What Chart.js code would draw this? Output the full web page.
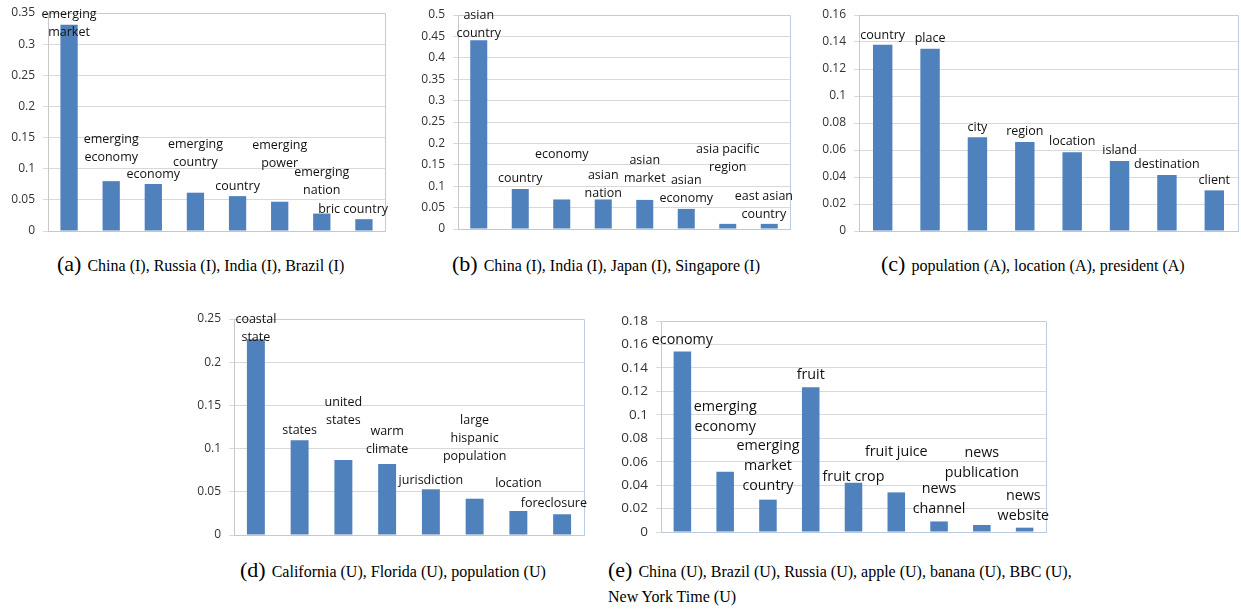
<!DOCTYPE html>
<html>
<head>
<meta charset="utf-8">
<script src="https://cdn.jsdelivr.net/npm/chart.js@4.4.1/dist/chart.umd.min.js"></script>
<style>
  body { margin: 0; background: #fff; }
  #page { position: relative; width: 1241px; height: 610px; overflow: hidden; }
  .box { position: absolute; }
  .cap { position: absolute; font-family: "Liberation Serif", serif; white-space: nowrap; color: #000; line-height: 1; font-size: 16px; }
  .cap .tag { font-size: 22px; }
  .cap .txt { font-size: 16px; margin-left: 6px; }
</style>
</head>
<body>
<div id="page">
  <div class="box" style="left:0px;top:0px;width:400px;height:245px"><canvas id="chartA"></canvas></div>
  <div class="box" style="left:410px;top:0px;width:400px;height:245px"><canvas id="chartB"></canvas></div>
  <div class="box" style="left:810px;top:0px;width:431px;height:245px"><canvas id="chartC"></canvas></div>
  <div class="box" style="left:180px;top:300px;width:420px;height:245px"><canvas id="chartD"></canvas></div>
  <div class="box" style="left:600px;top:300px;width:460px;height:245px"><canvas id="chartE"></canvas></div>

  <div class="cap" style="left:57px;top:253px"><span class="tag">(a)</span><span class="txt">China (I), Russia (I), India (I), Brazil (I)</span></div>
  <div class="cap" style="left:452px;top:253px"><span class="tag">(b)</span><span class="txt">China (I), India (I), Japan (I), Singapore (I)</span></div>
  <div class="cap" style="left:881px;top:253px"><span class="tag">(c)</span><span class="txt">population (A), location (A), president (A)</span></div>
  <div class="cap" style="left:240px;top:559px"><span class="tag">(d)</span><span class="txt">California (U), Florida (U), population (U)</span></div>
  <div class="cap" style="left:608px;top:559px"><span class="tag">(e)</span><span class="txt">China (U), Brazil (U), Russia (U), apple (U), banana (U), BBC (U),</span></div>
  <div class="cap" style="left:608px;top:589px"><span class="txt" style="margin-left:0">New York Time (U)</span></div>
</div>

<script>
// (a) China, Russia, India, Brazil
let catsA = [['emerging', 'market'], ['emerging', 'economy'], ['economy'], ['emerging', 'country'],
    ['country'], ['emerging', 'power'], ['emerging', 'nation'], ['bric country']];
let valsA = [0.331, 0.080, 0.0755, 0.0615, 0.056, 0.047, 0.028, 0.019];

// (b) China, India, Japan, Singapore
let catsB = [['asian', 'country'], ['country'], ['economy'], ['asian', 'nation'], ['asian', 'market'],
    ['asian', 'economy'], ['asia pacific', 'region'], ['east asian', 'country']];
let valsB = [0.441, 0.0935, 0.069, 0.069, 0.068, 0.047, 0.012, 0.012];

// (c) population, location, president
let catsC = [['country'], ['place'], ['city'], ['region'], ['location'], ['island'], ['destination'], ['client']];
let valsC = [0.138, 0.135, 0.0695, 0.066, 0.0584, 0.0518, 0.0414, 0.0301];

// (d) California, Florida, population
let catsD = [['coastal', 'state'], ['states'], ['united', 'states'], ['warm', 'climate'], ['jurisdiction'],
    ['large', 'hispanic', 'population'], ['location'], ['foreclosure']];
let valsD = [0.2265, 0.1096, 0.0868, 0.0822, 0.0529, 0.042, 0.0278, 0.024];

// (e) China, Brazil, Russia, apple, banana, BBC, New York Time
let catsE = [['economy'], ['emerging', 'economy'], ['emerging', 'market', 'country'], ['fruit'], ['fruit crop'],
    ['fruit juice'], ['news', 'channel'], ['news', 'publication'], ['news', 'website']];
let valsE = [0.154, 0.0515, 0.0276, 0.1234, 0.042, 0.0338, 0.009, 0.006, 0.0037];

// y axis ranges
let maxA = 0.35, stepA = 0.05;
let maxB = 0.5, stepB = 0.05;
let maxC = 0.16, stepC = 0.02;
let maxD = 0.25, stepD = 0.05;
let maxE = 0.18, stepE = 0.02;

// where each word label sits (value at the middle of the text block)
let labelAtA = [0.333, 0.133, 0.0915, 0.125, 0.072, 0.123, 0.079, 0.035];
let labelAtB = [0.477, 0.117, 0.175, 0.104, 0.139, 0.092, 0.164, 0.056];
let labelAtC = [0.145, 0.143, 0.077, 0.074, 0.066, 0.0594, 0.049, 0.0377];
let labelAtD = [0.239, 0.1215, 0.1426, 0.1094, 0.0637, 0.1123, 0.0598, 0.0367];
let labelAtE = [0.1638, 0.0981, 0.056, 0.134, 0.0474, 0.0683, 0.0278, 0.0585, 0.0224];

Chart.defaults.font.family = '"Open Sans", sans-serif';
Chart.defaults.animation = false;

// word labels above the bars, kept inside the plot frame
const barLabels = {
    id: 'barLabels',
    afterDatasetsDraw(chart, args, opts) {
        const ctx = chart.ctx;
        const meta = chart.getDatasetMeta(0);
        const y = chart.scales.y;
        const area = chart.chartArea;
        ctx.save();
        ctx.font = opts.size + 'px "Open Sans"';
        ctx.fillStyle = '#111';
        ctx.textAlign = 'center';
        ctx.textBaseline = 'middle';
        chart.data.labels.forEach(function(lines, i) {
            const w = Math.max.apply(null, lines.map(l => ctx.measureText(l).width));
            let x = Math.min(meta.data[i].x, area.right + 3 - w / 2);
            const mid = y.getPixelForValue(opts.at[i]);
            const top = mid - (lines.length - 1) * opts.lineHeight / 2;
            lines.forEach((l, k) => ctx.fillText(l, x, top + k * opts.lineHeight));
        });
        ctx.restore();
    }
};

// light blue frame on top and right of the plot area
const plotFrame = {
    id: 'plotFrame',
    beforeDatasetsDraw(chart) {
        const a = chart.chartArea;
        const ctx = chart.ctx;
        ctx.save();
        ctx.strokeStyle = '#b9cde5';
        ctx.lineWidth = 1;
        ctx.beginPath();
        ctx.moveTo(Math.round(a.left) + 0.5, Math.round(a.top) + 0.5);
        ctx.lineTo(Math.round(a.right) + 0.5, Math.round(a.top) + 0.5);
        ctx.lineTo(Math.round(a.right) + 0.5, Math.round(a.bottom) + 0.5);
        ctx.stroke();
        ctx.restore();
    }
};

function makeChart(id, cats, vals, max, step, at, lay) {
    return new Chart(document.getElementById(id), {
        type: 'bar',
        data: {
            labels: cats,
            datasets: [{
                data: vals,
                backgroundColor: '#4f81bd',
                barPercentage: 0.41,
                categoryPercentage: 1
            }]
        },
        options: {
            responsive: true,
            maintainAspectRatio: false,
            layout: { padding: { left: 0, right: lay.right, top: lay.top, bottom: lay.bottom } },
            plugins: {
                legend: { display: false },
                tooltip: { enabled: false },
                barLabels: { at: at, size: lay.font, lineHeight: lay.lineHeight }
            },
            scales: {
                x: {
                    ticks: { display: false },
                    grid: { display: false, drawTicks: false },
                    border: { color: '#b9c9df' }
                },
                y: {
                    min: 0,
                    max: max,
                    afterFit: function(s) {
                        s.width = lay.axisWidth;
                        s.paddingTop = 0;
                        s.paddingBottom = 0;
                    },
                    ticks: {
                        stepSize: step,
                        padding: 8,
                        color: '#333',
                        font: { size: lay.tickFont },
                        callback: v => String(+v.toFixed(2))
                    },
                    grid: { color: '#d9d9d9', tickLength: 5 },
                    border: { color: '#c8c8c8' }
                }
            }
        },
        plugins: [plotFrame, barLabels]
    });
}

makeChart('chartA', catsA, valsA, maxA, stepA, labelAtA,
    { axisWidth: 48, right: 15, top: 13, bottom: 14, font: 12.5, lineHeight: 18, tickFont: 12 });
makeChart('chartB', catsB, valsB, maxB, stepB, labelAtB,
    { axisWidth: 48, right: 20, top: 15, bottom: 16, font: 12.5, lineHeight: 18, tickFont: 12 });
makeChart('chartC', catsC, valsC, maxC, stepC, labelAtC,
    { axisWidth: 49, right: 3, top: 15, bottom: 14, font: 12.5, lineHeight: 18, tickFont: 12 });
makeChart('chartD', catsD, valsD, maxD, stepD, labelAtD,
    { axisWidth: 54, right: 16, top: 19, bottom: 10, font: 12.5, lineHeight: 18, tickFont: 12 });
makeChart('chartE', catsE, valsE, maxE, stepE, labelAtE,
    { axisWidth: 61, right: 14, top: 21, bottom: 13, font: 14.3, lineHeight: 20, tickFont: 13.5 });
</script>
</body>
</html>
